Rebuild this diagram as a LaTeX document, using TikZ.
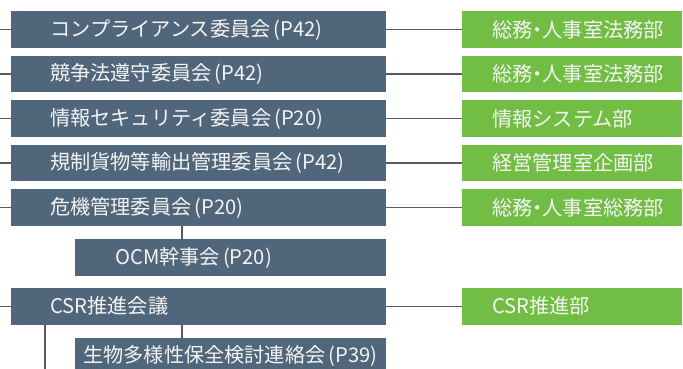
\documentclass[tikz,border=0pt]{standalone}
\usepackage{fontspec}
\setmainfont{Noto Sans CJK JP}
\newfontfamily\paltfont{Noto Sans CJK JP}[RawFeature=+palt]
\newcommand{\mdot}{{\paltfont ・}}
\newcommand{\pg}{\hspace{3pt}}
\definecolor{boxblue}{HTML}{50667A}
\definecolor{boxgreen}{HTML}{72BE44}
\definecolor{txt}{HTML}{F4F4F4}
\definecolor{linegray}{HTML}{5A5A5A}
\tikzset{
  bluebox/.style={fill=boxblue, text=txt, inner xsep=0pt, inner ysep=0pt, minimum height=36.7pt, anchor=north west, align=left, font=\fontsize{20.2}{21}\selectfont},
  greenbox/.style={fill=boxgreen, text=txt, inner xsep=0pt, inner ysep=0pt, minimum height=36.7pt, text width=220pt, anchor=north west, align=left, font=\fontsize{20.2}{21}\selectfont},
  conn/.style={draw=linegray, line width=1.3pt},
}
\begin{document}
\begin{tikzpicture}[x=1pt,y=-1pt]
\useasboundingbox (0,0) rectangle (683,369);
% blue boxes
\node[bluebox, text width=375pt] (b1) at (11,11) {\hspace*{39pt}コンプライアンス委員会\pg(P42)};
\node[bluebox, text width=375pt] (b2) at (11,55.5) {\hspace*{39pt}競争法遵守委員会\pg(P42)};
\node[bluebox, text width=375pt] (b3) at (11,100) {\hspace*{39pt}情報セキュリティ委員会\pg(P20)};
\node[bluebox, text width=375pt] (b4) at (11,144.3) {\hspace*{39pt}規制貨物等輸出管理委員会\pg(P42)};
\node[bluebox, text width=375pt] (b5) at (11,189) {\hspace*{39pt}危機管理委員会\pg(P20)};
\node[bluebox, text width=311pt] (ocm) at (75,239) {\hspace*{40pt}OCM幹事会\pg(P20)};
\node[bluebox, text width=375pt] (csr) at (11,287.7) {\hspace*{39pt}CSR推進会議};
\node[bluebox, text width=311pt] (bio) at (75,337.7) {\hspace*{8pt}生物多様性保全検討連絡会\pg(P39)};
% green boxes
\node[greenbox] (g1) at (462,11) {\hspace*{30pt}総務\mdot 人事室法務部};
\node[greenbox] (g2) at (462,55.5) {\hspace*{30pt}総務\mdot 人事室法務部};
\node[greenbox] (g3) at (462,100) {\hspace*{30pt}情報システム部};
\node[greenbox] (g4) at (462,144.3) {\hspace*{30pt}経営管理室企画部};
\node[greenbox] (g5) at (462,189) {\hspace*{30pt}総務\mdot 人事室総務部};
\node[greenbox] (g6) at (462,287.7) {\hspace*{30pt}CSR推進部};
% left stubs
\foreach \n in {b1,b2,b3,b4,b5,csr}{
  \coordinate (l\n) at (0,0 |- \n.west);
  \draw[conn] (\n.west) -- (l\n -| 0,0);
}
% right connectors
\draw[conn] (b1.east) -- (g1.west);
\draw[conn] (b2.east) -- (g2.west);
\draw[conn] (b3.east) -- (g3.west);
\draw[conn] (b4.east) -- (g4.west);
\draw[conn] (b5.east) -- (g5.west);
\draw[conn] (csr.east) -- (g6.west);
% vertical connectors
\draw[conn] (b5.south -| 182,0) -- (ocm.north -| 182,0);
\draw[conn] (csr.south -| 182,0) -- (bio.north -| 182,0);
\coordinate (bottom) at (45,369);
\draw[conn] (csr.south -| bottom) -- (bottom);
\end{tikzpicture}
\end{document}
